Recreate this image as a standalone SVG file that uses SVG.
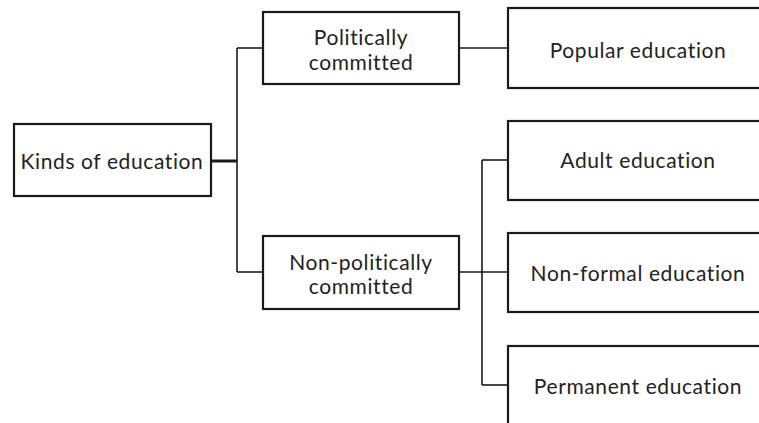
<svg xmlns="http://www.w3.org/2000/svg" width="759" height="423" viewBox="0 0 759 423">
  <style>
    .box { fill: #ffffff; stroke: #1a1a1a; stroke-width: 2.2; }
    .lbl { font-family: Lato, "Liberation Sans", sans-serif; font-size: 21px; letter-spacing: 0.6px; fill: #222222; text-anchor: middle; }
    .wire { fill: none; stroke: #1a1a1a; stroke-width: 1.6; }
  </style>
  <rect width="759" height="423" fill="#ffffff"/>

  <g id="connectors">
    <path class="wire" d="M211 161 H237" style="stroke-width:3"/>
    <path class="wire" d="M237 48 V272"/>
    <path class="wire" d="M237 48 H263"/>
    <path class="wire" d="M237 272 H263"/>
    <path class="wire" d="M459 48 H508"/>
    <path class="wire" d="M459 272 H508"/>
    <path class="wire" d="M482 160 V385"/>
    <path class="wire" d="M482 160 H508"/>
    <path class="wire" d="M482 385 H508"/>
  </g>

  <g id="kinds">
    <rect class="box" x="14" y="124" width="197" height="72"/>
    <text class="lbl" x="112" y="169">Kinds of education</text>
  </g>

  <g id="political">
    <rect class="box" x="263" y="12" width="196" height="72"/>
    <text class="lbl" x="361" y="45">Politically</text>
    <text class="lbl" x="361" y="70">committed</text>
  </g>

  <g id="nonpolitical">
    <rect class="box" x="263" y="236" width="196" height="73"/>
    <text class="lbl" x="361" y="270">Non-politically</text>
    <text class="lbl" x="361" y="294">committed</text>
  </g>

  <g id="popular">
    <rect class="box" x="508" y="8" width="270" height="80"/>
    <text class="lbl" x="638" y="58">Popular education</text>
  </g>

  <g id="adult">
    <rect class="box" x="508" y="121" width="270" height="79"/>
    <text class="lbl" x="638" y="168">Adult education</text>
  </g>

  <g id="nonformal">
    <rect class="box" x="508" y="233" width="270" height="79"/>
    <text class="lbl" x="638" y="281">Non-formal education</text>
  </g>

  <g id="permanent">
    <rect class="box" x="508" y="346" width="270" height="90"/>
    <text class="lbl" x="638" y="394">Permanent education</text>
  </g>
</svg>
